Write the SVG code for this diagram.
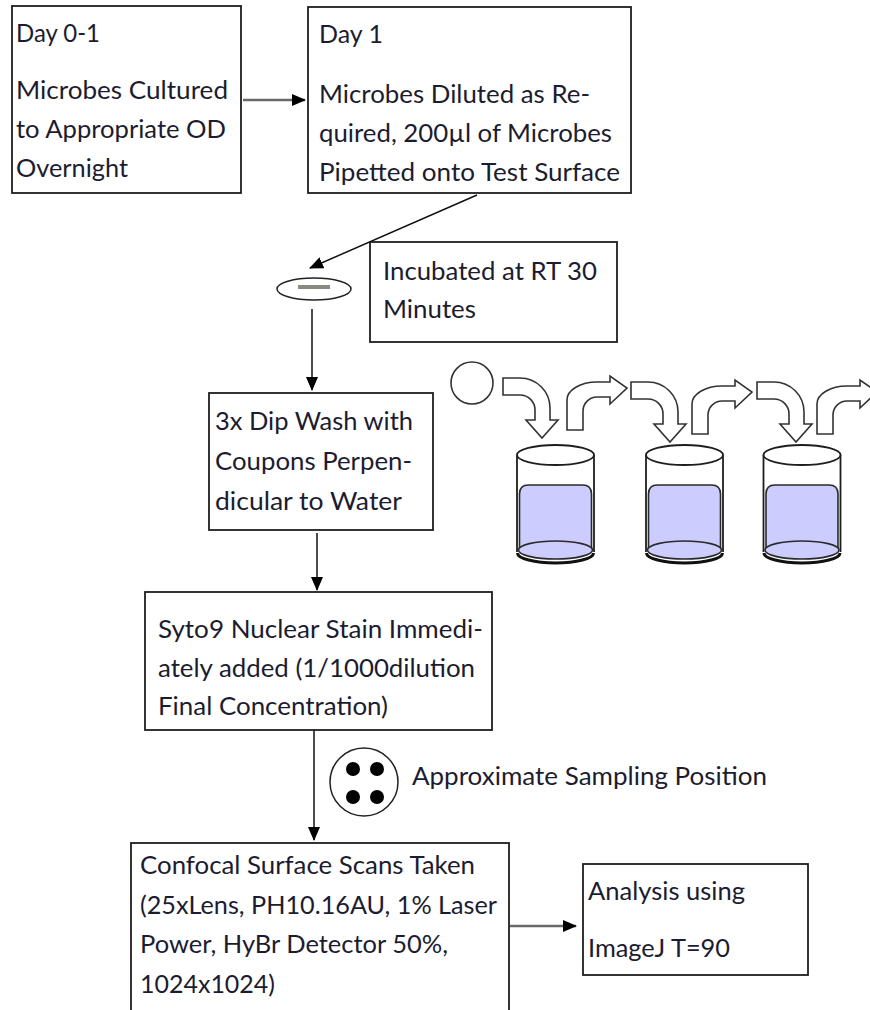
<svg xmlns="http://www.w3.org/2000/svg" width="870" height="1010" viewBox="0 0 870 1010">
  <style>
    .box { fill: #fff; stroke: #1e1e1e; stroke-width: 1.8; }
    .lbl { font-family: Lato, "Liberation Sans", sans-serif; font-size: 25px; fill: #1c1c30; }
    .con { stroke: #111; stroke-width: 1.5; fill: none; }
    .con-grey { stroke: #6a6a6a; stroke-width: 2.6; fill: none; }
    .bend { fill: #fff; stroke: #333; stroke-width: 1.6; stroke-linejoin: miter; }
    .glass { fill: none; stroke: #1e1e1e; stroke-width: 1.8; }
    .liquid { fill: #ccccff; stroke: #2a2a2a; stroke-width: 1.6; }
  </style>
  <defs>
    <marker id="ah" viewBox="0 0 14 12" refX="13" refY="6" markerWidth="14" markerHeight="12" markerUnits="userSpaceOnUse" orient="auto">
      <path d="M0,0 L14,6 L0,12 Z" fill="#000"/>
    </marker>
    <!-- bent arrow turning downwards, origin at its top-left corner -->
    <path id="bend-down" class="bend" d="M0,0 H17 A30,30 0 0 1 47,30 V42 H55 L39,60 L23,42 H32 V32 A15,15 0 0 0 17,17 H0 Z"/>
    <!-- bent arrow turning right, origin at its bottom-left corner -->
    <path id="bend-right" class="bend" d="M0,0 V-30 A30,18 0 0 1 30,-48 H43 V-54 L60,-42 L43,-26 V-33 H30 A14,14 0 0 0 16,-19 V0 Z"/>
    <!-- beaker with liquid, centred on x=0 -->
    <g id="beaker">
      <path d="M-38,553 A38,10 0 0 0 38,553" fill="none" stroke="#111" stroke-width="3"/>
      <path class="liquid" d="M-36,550 V494 Q-36,485 -27,485 H27 Q36,485 36,494 V550 Z"/>
      <ellipse class="liquid" cx="0" cy="550" rx="37" ry="9"/>
      <line class="glass" x1="-38.5" y1="455" x2="-38.5" y2="552"/>
      <line class="glass" x1="38.5" y1="455" x2="38.5" y2="552"/>
      <ellipse cx="0" cy="455" rx="38.5" ry="10" fill="#fff" stroke="#1e1e1e" stroke-width="1.8"/>
    </g>
  </defs>

  <rect width="870" height="1010" fill="#fff"/>

  <!-- connectors -->
  <g id="connectors">
    <line class="con-grey" x1="243" y1="100" x2="305" y2="100" marker-end="url(#ah)"/>
    <line class="con" x1="477" y1="195" x2="310" y2="268" marker-end="url(#ah)"/>
    <line class="con" x1="312" y1="309" x2="312" y2="390" marker-end="url(#ah)"/>
    <line class="con" x1="317" y1="533" x2="317" y2="590" marker-end="url(#ah)"/>
    <line class="con" x1="314" y1="730" x2="314" y2="840" marker-end="url(#ah)"/>
    <line class="con-grey" x1="510" y1="926" x2="576" y2="926" marker-end="url(#ah)"/>
  </g>

  <g id="day01">
    <rect class="box" x="12" y="6" width="229" height="187"/>
    <text class="lbl" x="16" y="42" textLength="84" lengthAdjust="spacingAndGlyphs">Day 0-1</text>
    <text class="lbl" x="16" y="99" textLength="212" lengthAdjust="spacingAndGlyphs">Microbes Cultured</text>
    <text class="lbl" x="16" y="138" textLength="210" lengthAdjust="spacingAndGlyphs">to Appropriate OD</text>
    <text class="lbl" x="16" y="177" textLength="112" lengthAdjust="spacingAndGlyphs">Overnight</text>
  </g>

  <g id="day1">
    <rect class="box" x="308" y="7" width="323" height="186"/>
    <text class="lbl" x="319" y="43" textLength="64" lengthAdjust="spacingAndGlyphs">Day 1</text>
    <text class="lbl" x="319" y="103" textLength="271" lengthAdjust="spacingAndGlyphs">Microbes Diluted as Re-</text>
    <text class="lbl" x="319" y="142" textLength="293" lengthAdjust="spacingAndGlyphs">quired, 200µl of Microbes</text>
    <text class="lbl" x="319" y="181" textLength="301" lengthAdjust="spacingAndGlyphs">Pipetted onto Test Surface</text>
  </g>

  <g id="coupon">
    <ellipse cx="314" cy="289" rx="37" ry="11" fill="#fff" stroke="#222" stroke-width="1.5"/>
    <line x1="298" y1="287" x2="330" y2="287" stroke="#8a8a80" stroke-width="4"/>
  </g>

  <g id="incubate">
    <rect class="box" x="370" y="242" width="247" height="100"/>
    <text class="lbl" x="383" y="280" textLength="214" lengthAdjust="spacingAndGlyphs">Incubated at RT 30</text>
    <text class="lbl" x="383" y="318" textLength="93" lengthAdjust="spacingAndGlyphs">Minutes</text>
  </g>

  <g id="dip-wash">
    <rect class="box" x="209" y="393" width="224" height="137"/>
    <text class="lbl" x="215" y="430" textLength="198" lengthAdjust="spacingAndGlyphs">3x Dip Wash with</text>
    <text class="lbl" x="215" y="470" textLength="197" lengthAdjust="spacingAndGlyphs">Coupons Perpen-</text>
    <text class="lbl" x="215" y="510" textLength="187" lengthAdjust="spacingAndGlyphs">dicular to Water</text>
  </g>

  <!-- dip sequence: coupon, into beaker, out, into next ... -->
  <g id="dip-sequence">
    <circle cx="472" cy="383" r="21" fill="#fff" stroke="#333" stroke-width="1.6"/>
    <use href="#bend-down" x="503" y="378"/>
    <use href="#bend-right" x="567" y="430"/>
    <use href="#bend-down" x="631" y="382"/>
    <use href="#bend-right" x="692" y="434"/>
    <use href="#bend-down" x="757" y="382"/>
    <use href="#bend-right" x="817" y="434"/>
    <use href="#beaker" x="555.5" y="0"/>
    <use href="#beaker" x="684.5" y="0"/>
    <use href="#beaker" x="802" y="0"/>
  </g>

  <g id="stain">
    <rect class="box" x="145" y="592" width="347" height="138"/>
    <text class="lbl" x="158" y="638" textLength="325" lengthAdjust="spacingAndGlyphs">Syto9 Nuclear Stain Immedi-</text>
    <text class="lbl" x="158" y="677" textLength="317" lengthAdjust="spacingAndGlyphs">ately added (1/1000dilution</text>
    <text class="lbl" x="158" y="715" textLength="230" lengthAdjust="spacingAndGlyphs">Final Concentration)</text>
  </g>

  <g id="sampling">
    <circle cx="364" cy="782" r="34" fill="#fff" stroke="#222" stroke-width="1.5"/>
    <circle cx="353" cy="769" r="7" fill="#000"/>
    <circle cx="377" cy="769" r="7" fill="#000"/>
    <circle cx="353" cy="797" r="7" fill="#000"/>
    <circle cx="377" cy="797" r="7" fill="#000"/>
    <text class="lbl" x="412" y="785" textLength="355" lengthAdjust="spacingAndGlyphs">Approximate Sampling Position</text>
  </g>

  <g id="confocal">
    <rect class="box" x="131" y="843" width="378" height="180"/>
    <text class="lbl" x="140" y="874" textLength="335" lengthAdjust="spacingAndGlyphs">Confocal Surface Scans Taken</text>
    <text class="lbl" x="140" y="914" textLength="357" lengthAdjust="spacingAndGlyphs">(25xLens, PH10.16AU, 1% Laser</text>
    <text class="lbl" x="140" y="953" textLength="308" lengthAdjust="spacingAndGlyphs">Power, HyBr Detector 50%,</text>
    <text class="lbl" x="140" y="993" textLength="135" lengthAdjust="spacingAndGlyphs">1024x1024)</text>
  </g>

  <g id="analysis">
    <rect class="box" x="583" y="864" width="225" height="111"/>
    <text class="lbl" x="588" y="900" textLength="157" lengthAdjust="spacingAndGlyphs">Analysis using</text>
    <text class="lbl" x="588" y="957" textLength="142" lengthAdjust="spacingAndGlyphs">ImageJ T=90</text>
  </g>
</svg>
